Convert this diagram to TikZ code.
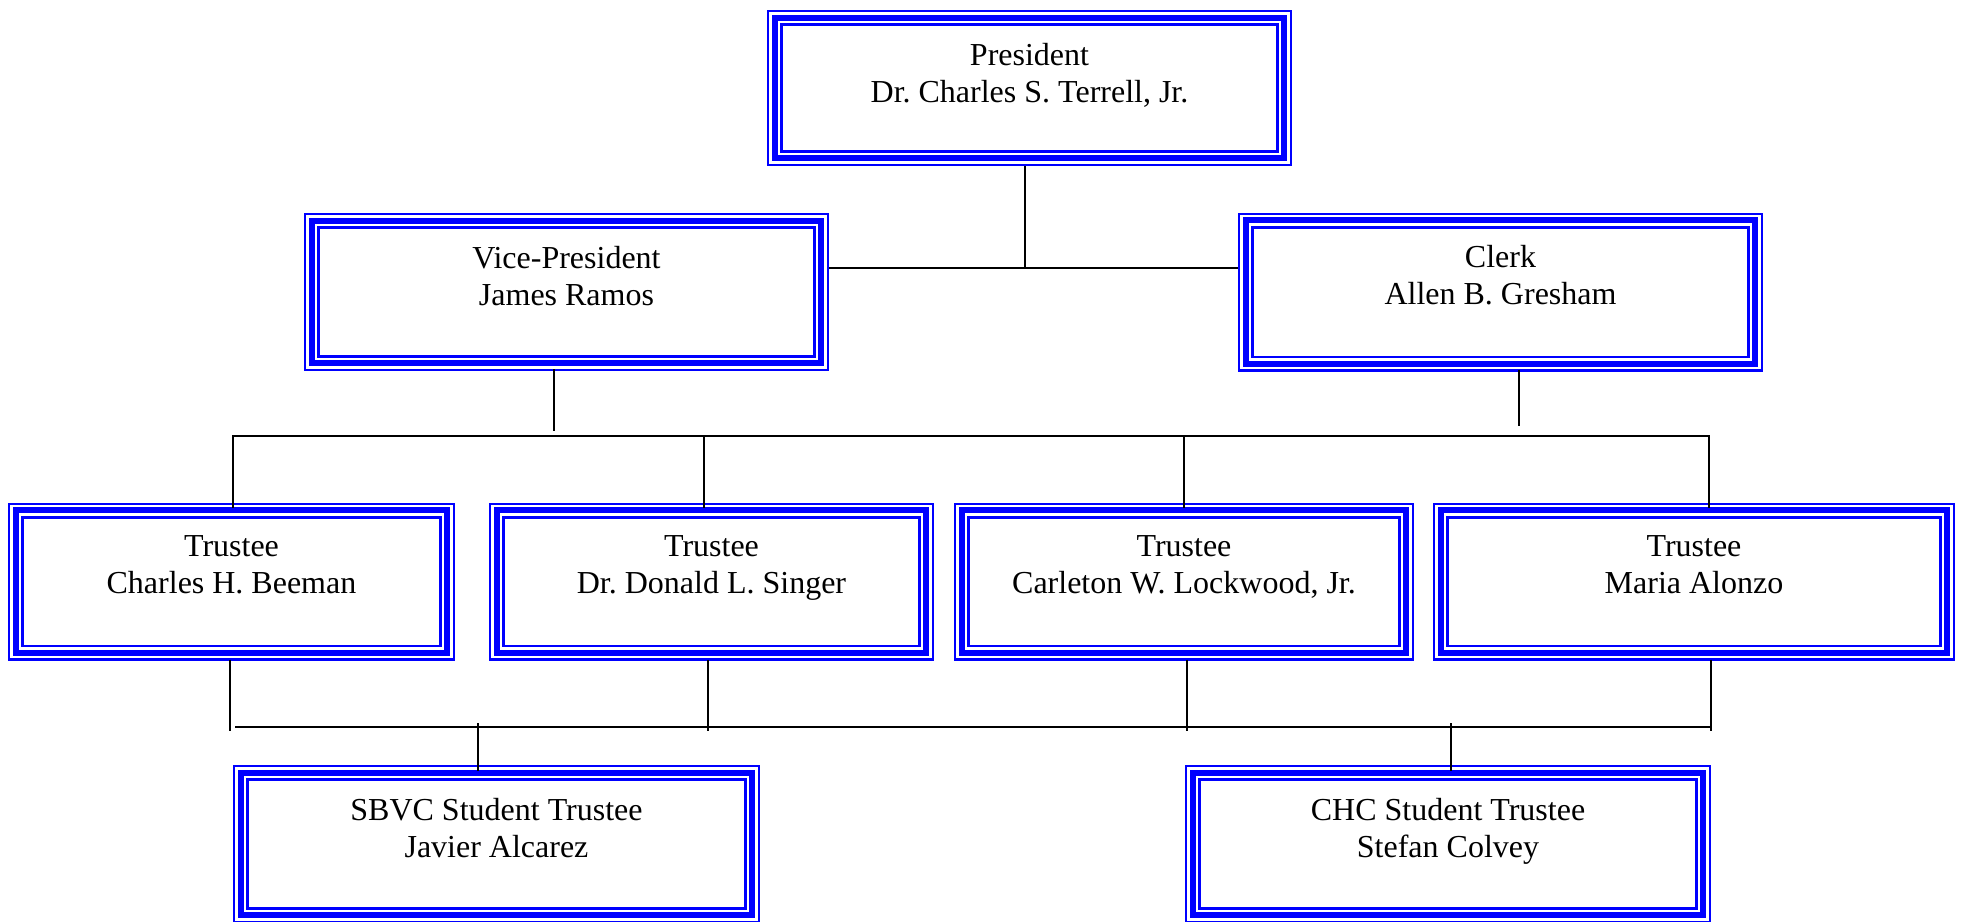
\documentclass[tikz,border=0pt]{standalone}
\usepackage{fontspec}
\setmainfont{Liberation Serif}
\usetikzlibrary{calc}
\frenchspacing
\tikzset{
  tribox/.style={rectangle, inner sep=0pt, outer sep=0pt,
    path picture={
      \draw[blue, line width=2.3pt]
        ([shift={(1.15pt,-1.15pt)}]path picture bounding box.north west) rectangle
        ([shift={(-1.15pt,1.15pt)}]path picture bounding box.south east);
      \draw[blue, line width=5.9pt]
        ([shift={(7.85pt,-7.85pt)}]path picture bounding box.north west) rectangle
        ([shift={(-7.85pt,7.85pt)}]path picture bounding box.south east);
      \draw[blue, line width=2.7pt]
        ([shift={(14.65pt,-14.65pt)}]path picture bounding box.north west) rectangle
        ([shift={(-14.65pt,14.65pt)}]path picture bounding box.south east);
    }},
  boxtext/.style={anchor=north, yshift=-33pt, align=center, inner sep=0pt,
    font=\fontsize{32}{37}\selectfont\frenchspacing},
  conn/.style={draw=black, line width=2pt}
}
\begin{document}
\begin{tikzpicture}[x=1pt,y=-1pt]
\useasboundingbox (0,0) rectangle (1961,921);
% boxes
\node[tribox, minimum width=525pt, minimum height=156pt,
  label={[boxtext]north:{President\\Dr. Charles S. Terrell, Jr.}}] (pres) at (1029.5,88) {};
\node[tribox, minimum width=525pt, minimum height=158pt,
  label={[boxtext]north:{Vice-President\\James Ramos}}] (vp) at (566.5,292) {};
\node[tribox, minimum width=525pt, minimum height=159pt,
  label={[boxtext]north:{Clerk\\Allen B. Gresham}}] (clerk) at (1500.5,292) {};
\node[tribox, minimum width=447pt, minimum height=158pt,
  label={[boxtext]north:{Trustee\\Charles H. Beeman}}] (t1) at (231.5,581.5) {};
\node[tribox, minimum width=445pt, minimum height=158pt,
  label={[boxtext]north:{Trustee\\Dr. Donald L. Singer}}] (t2) at (711.5,581.5) {};
\node[tribox, minimum width=460pt, minimum height=158pt,
  label={[boxtext]north:{Trustee\\Carleton W. Lockwood, Jr.}}] (t3) at (1184,581.5) {};
\node[tribox, minimum width=522pt, minimum height=158pt,
  label={[boxtext]north:{Trustee\\Maria Alonzo}}] (t4) at (1694,581.5) {};
\node[tribox, minimum width=527pt, minimum height=158pt,
  label={[boxtext]north:{SBVC Student Trustee\\Javier Alcarez}}] (sbvc) at (496.5,844) {};
\node[tribox, minimum width=526pt, minimum height=158pt,
  label={[boxtext]north:{CHC Student Trustee\\Stefan Colvey}}] (chc) at (1448,844) {};
% junction coordinates
\coordinate (j1) at (1025,268);
\coordinate (j2) at (554,431);
\coordinate (j3) at (1519,426);
\coordinate (b1a) at (233,436);
\coordinate (b1b) at (704,436);
\coordinate (b1c) at (1184,436);
\coordinate (b1d) at (1709,436);
\coordinate (s1) at (230,731);
\coordinate (s2) at (708,731);
\coordinate (s3) at (1187,731);
\coordinate (s4) at (1711,731);
\coordinate (b2a) at (235,727);
\coordinate (b2b) at (1711,727);
\coordinate (d1) at (478,723);
\coordinate (d2) at (1451,723);
% connectors
\draw[conn] (pres.south -| j1) -- (j1);
\draw[conn] (vp.east |- j1) -- (clerk.west |- j1);
\draw[conn] ([yshift=2pt]vp.south -| j2) -- (j2);
\draw[conn] ([yshift=2pt]clerk.south -| j3) -- (j3);
\draw[conn] ([yshift=-5pt]t1.north -| b1a) -- (b1a) -- (b1d) -- ([yshift=-5pt]t4.north -| b1d);
\draw[conn] (b1b) -- ([yshift=-5pt]t2.north -| b1b);
\draw[conn] (b1c) -- ([yshift=-5pt]t3.north -| b1c);
\draw[conn] ([yshift=1pt]t1.south -| s1) -- (s1);
\draw[conn] ([yshift=1pt]t2.south -| s2) -- (s2);
\draw[conn] ([yshift=1pt]t3.south -| s3) -- (s3);
\draw[conn] ([yshift=1pt]t4.south -| s4) -- (s4);
\draw[conn] (b2a) -- (b2b);
\draw[conn] (d1) -- ([yshift=-6pt]sbvc.north -| d1);
\draw[conn] (d2) -- ([yshift=-6pt]chc.north -| d2);
\end{tikzpicture}
\end{document}
